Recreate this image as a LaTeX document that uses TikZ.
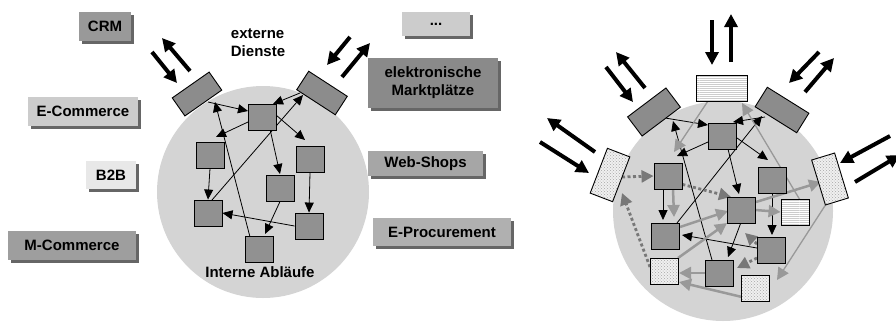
\documentclass[tikz,border=0pt]{standalone}
\usepackage{fontspec}
\setmainfont{Liberation Sans}
\usetikzlibrary{arrows.meta,calc,patterns,shadows}
\pgfdeclarelayer{bg}
\pgfdeclarelayer{conn}
\pgfsetlayers{bg,conn,main}
\pgfdeclarepatternformonly{hlinesfine}{\pgfpointorigin}{\pgfpoint{100pt}{2pt}}{\pgfpoint{100pt}{2pt}}{%
  \pgfsetlinewidth{0.6pt}\pgfpathmoveto{\pgfpoint{0pt}{0.5pt}}\pgfpathlineto{\pgfpoint{100pt}{0.5pt}}\pgfusepath{stroke}}
\definecolor{circ}{gray}{0.83}
\definecolor{dkgray}{gray}{0.57}
\definecolor{gategray}{gray}{0.55}
\definecolor{arrgray}{gray}{0.6}
\definecolor{dotgray}{gray}{0.47}
\tikzset{
  lbl/.style={rectangle, inner sep=0pt, align=center,
    font=\fontsize{15}{18}\selectfont\bfseries,
    drop shadow={shadow xshift=2.5pt, shadow yshift=-2.5pt, fill=black!60, opacity=1}},
  txt/.style={font=\fontsize{15}{18}\selectfont\bfseries, inner sep=0pt},
  sqbase/.style={rectangle, draw=black, line width=0.9pt, minimum width=28pt, minimum height=26pt, inner sep=0pt},
  sq/.style={sqbase, fill=dkgray},
  gate/.style={rectangle, draw=black, line width=0.9pt, inner sep=0pt},
  gatedark/.style={gate, fill=gategray},
  striped/.style={preaction={fill=white}, pattern=hlinesfine, pattern color=black!30},
  dotty/.style={preaction={fill=black!6}, pattern=crosshatch dots, pattern color=black!35},
  thinarr/.style={-{Triangle[length=10pt,width=9pt]}, line width=0.8pt, draw=black},
  graythin/.style={-{Triangle[length=12pt,width=12pt]}, line width=1.3pt, draw=arrgray, fill=arrgray},
  grayarr/.style={-{Triangle[length=12pt,width=12pt]}, line width=2.5pt, draw=arrgray, fill=arrgray},
  dotarr/.style={-{Triangle[length=12pt,width=12pt,fill=dotgray]}, line width=2.8pt, dash pattern=on 3pt off 2.5pt, draw=dotgray},
  bigarr/.style={-{Triangle[length=13pt,width=13pt]}, line width=4pt, draw=black}
}
\begin{document}
\begin{tikzpicture}[x=1pt,y=-1pt]
\useasboundingbox (0,0) rectangle (896,322);

% ---------- label boxes ----------
\node[lbl, fill=black!40, minimum width=52pt, minimum height=29pt] (crm) at (105,26.5) {CRM};
\node[lbl, fill=black!20, minimum width=110pt, minimum height=29pt] (ecom) at (83,111.5) {E-Commerce};
\node[lbl, fill=black!9, minimum width=50pt, minimum height=28pt] (b2b) at (111,175) {B2B};
\node[lbl, fill=black!38, minimum width=128pt, minimum height=29pt] (mcom) at (72,245.5) {M-Commerce};
\node[lbl, fill=black!20, minimum width=68pt, minimum height=24pt] (dots) at (436,24) {...};
\node[lbl, fill=black!46, minimum width=130pt, minimum height=50pt] (emkt) at (433,83) {elektronische\\Marktplätze};
\node[lbl, fill=black!35, minimum width=115pt, minimum height=25pt] (web) at (425.5,163.5) {Web-Shops};
\node[lbl, fill=black!31, minimum width=138pt, minimum height=28pt] (eproc) at (442,232) {E-Procurement};

% ---------- left diagram ----------
\begin{pgfonlayer}{bg}
\node[circle, fill=circ, minimum size=212pt, inner sep=0pt] (c1) at (263,192) {};
\node[circle, fill=circ, minimum size=220pt, inner sep=0pt] (c2) at (723,211) {};
\end{pgfonlayer}

\node[sq] (a1) at (262,117) {};
\node[sq] (a2) at (210,155) {};
\node[sq] (a3) at (310,159) {};
\node[sq] (a4) at (280,188) {};
\node[sq] (a5) at (208,213) {};
\node[sq] (a6) at (309,226) {};
\node[sq] (a7) at (259,249) {};
\node[gatedark, minimum width=45pt, minimum height=22pt, rotate=35] (g1) at (197,94) {};
\node[gatedark, minimum width=46pt, minimum height=22pt, rotate=-33] (g2) at (322,93) {};

\node[txt, align=left] (ext) at (258,43) {externe\\Dienste};
\node[txt] (intl) at (260,272) {Interne Abläufe};

\coordinate (e1s) at (152,52);  \coordinate (e1e) at (177,83);
\coordinate (e2s) at (190,71);  \coordinate (e2e) at (162,38);
\coordinate (e3s) at (350,37);  \coordinate (e3e) at (327,65);
\coordinate (e4s) at (342,77);  \coordinate (e4e) at (370,43);

\begin{pgfonlayer}{conn}
\draw[thinarr] ($(g1)+(11,8)$) -- ($(a1)+(-14,-6)$);
\draw[thinarr] ($(a1)+(-14,5)$) -- ($(a2)+(6,-18)$);
\draw[thinarr] ($(g2)+(-22,0)$) -- ($(a1)+(11,-13)$);
\draw[thinarr] ($(a5)+(4,-13)$) -- ($(g2)+(-19,2)$);
\draw[thinarr] ($(a1)+(14,-2)$) -- ($(a3)+(-5,-19)$);
\draw[thinarr] ($(a1)+(8,12)$) -- ($(a4)+(0,-14)$);
\draw[thinarr] (a2.south) -- (a5.north);
\draw[thinarr] (a3.south) -- (a6.north);
\draw[thinarr] ($(a4)+(3,7)$) -- ($(a7)+(6,-15)$);
\draw[thinarr] (a6.west) -- (a5.east);
\draw[thinarr] ($(a7)+(-9,-12)$) -- ($(g1)+(18,8)$);
\end{pgfonlayer}

\draw[bigarr] (e1s) -- (e1e);
\draw[bigarr] (e2s) -- (e2e);
\draw[bigarr] (e3s) -- (e3e);
\draw[bigarr] (e4s) -- (e4e);

% ---------- right diagram ----------
\node[sq] (b1) at (722,136) {};
\node[sq] (b2) at (668,176) {};
\node[sq] (b3) at (772,180) {};
\node[sq] (b4) at (741,210) {};
\node[sqbase, striped] (b5) at (795,212) {};
\node[sq] (b6) at (665,236) {};
\node[sq] (b7) at (771,250) {};
\node[sqbase, dotty] (b8) at (664,271) {};
\node[sq] (b9) at (719,273) {};
\node[sqbase, dotty] (b10) at (755,288) {};

\node[gate, striped, minimum width=51pt, minimum height=26pt] (h1) at (722,88) {};
\node[gatedark, minimum width=48pt, minimum height=24pt, rotate=37] (h2) at (654,112) {};
\node[gatedark, minimum width=49pt, minimum height=23pt, rotate=-32] (h3) at (782,110) {};
\node[gate, dotty, minimum width=24pt, minimum height=48pt, rotate=-21] (h4) at (610,175) {};
\node[gate, dotty, minimum width=24pt, minimum height=47pt, rotate=17] (h5) at (830,179) {};

\begin{pgfonlayer}{conn}
% black
\draw[thinarr] ($(h2)+(11,6)$) -- ($(b1)+(-14,-11)$);
\draw[thinarr] ($(b9)+(-7,-13)$) -- ($(h2)+(19,9)$);
\draw[thinarr] ($(b1)+(-14,6)$) -- ($(b2)+(9,-20)$);
\draw[thinarr] ($(h3)+(-17,7)$) -- ($(b1)+(11,-14)$);
\draw[thinarr] ($(b6)+(12,-13)$) -- ($(h3)+(-20,6)$);
\draw[thinarr] ($(b1)+(15,2)$) -- ($(b3)+(-4,-20)$);
\draw[thinarr] ($(b1)+(6,13)$) -- ($(b4)+(-2,-16)$);
\draw[thinarr] ($(b2)+(-5,13)$) -- ($(b6)+(-2,-16)$);
\draw[thinarr] (b3.south) -- ($(b7)+(1,-15)$);
\draw[thinarr] ($(b4)+(2,7)$) -- ($(b9)+(9,-16)$);
\draw[thinarr] ($(b7)+(-14,-2)$) -- ($(b6)+(17,-1)$);
% gray thin
\draw[graythin] ($(h1)+(-14,13)$) -- ($(b2)+(6,-24)$);
\draw[graythin] ($(b5)+(5,-12)$) -- ($(h1)+(20,15)$);
\draw[graythin] (h5.south west) -- ($(b10)+(22,-8)$);
% gray thick
\draw[grayarr] ($(b2)+(5,13)$) -- ($(b6)+(9,-19)$);
\draw[grayarr] ($(b6)+(15,-9)$) -- ($(b4)+(-13,1)$);
\draw[grayarr] ($(b8)+(14,-13)$) -- ($(b4)+(-14,13)$);
\draw[grayarr] (b4.east) -- (b5.west);
\draw[grayarr] ($(b4)+(15,-8)$) -- ($(h5)+(-9,3)$);
\draw[grayarr] (b9.west) -- ($(b8)+(15,2)$);
\draw[grayarr] ($(b10)+(-13,9)$) -- ($(b8)+(15,11)$);
% gray dotted
\draw[dotarr] ($(h4)+(12,2)$) -- (b2.west);
\draw[dotarr] ($(b8)+(-14,-4)$) -- ($(h4)+(12,18)$);
\draw[dotarr] ($(b2)+(9,7)$) -- ($(b4)+(-10,-13)$);
\draw[dotarr] ($(b7)+(-14,-6)$) -- ($(b4)+(4,23)$);
\draw[dotarr] ($(b7)+(-14,8)$) -- ($(b9)+(18,-5)$);
\end{pgfonlayer}

\coordinate (t1s) at (712,20);  \coordinate (t1e) at (712,65);
\coordinate (t2s) at (731,62);  \coordinate (t2e) at (731,14);
\coordinate (u1s) at (606,67);  \coordinate (u1e) at (633,102);
\coordinate (u2s) at (645,88);  \coordinate (u2e) at (616,52);
\coordinate (v1s) at (819,52);  \coordinate (v1e) at (789,83);
\coordinate (v2s) at (805,92);  \coordinate (v2e) at (834,58);
\coordinate (w1s) at (595,152); \coordinate (w1e) at (547,118);
\coordinate (w2s) at (540,142); \coordinate (w2e) at (589,173);
\coordinate (x1s) at (890,136); \coordinate (x1e) at (840,163);
\coordinate (x2s) at (855,182); \coordinate (x2e) at (900,155);

\draw[bigarr] (t1s) -- (t1e);
\draw[bigarr] (t2s) -- (t2e);
\draw[bigarr] (u1s) -- (u1e);
\draw[bigarr] (u2s) -- (u2e);
\draw[bigarr] (v1s) -- (v1e);
\draw[bigarr] (v2s) -- (v2e);
\draw[bigarr] (w1s) -- (w1e);
\draw[bigarr] (w2s) -- (w2e);
\draw[bigarr] (x1s) -- (x1e);
\draw[bigarr] (x2s) -- (x2e);
\end{tikzpicture}
\end{document}
